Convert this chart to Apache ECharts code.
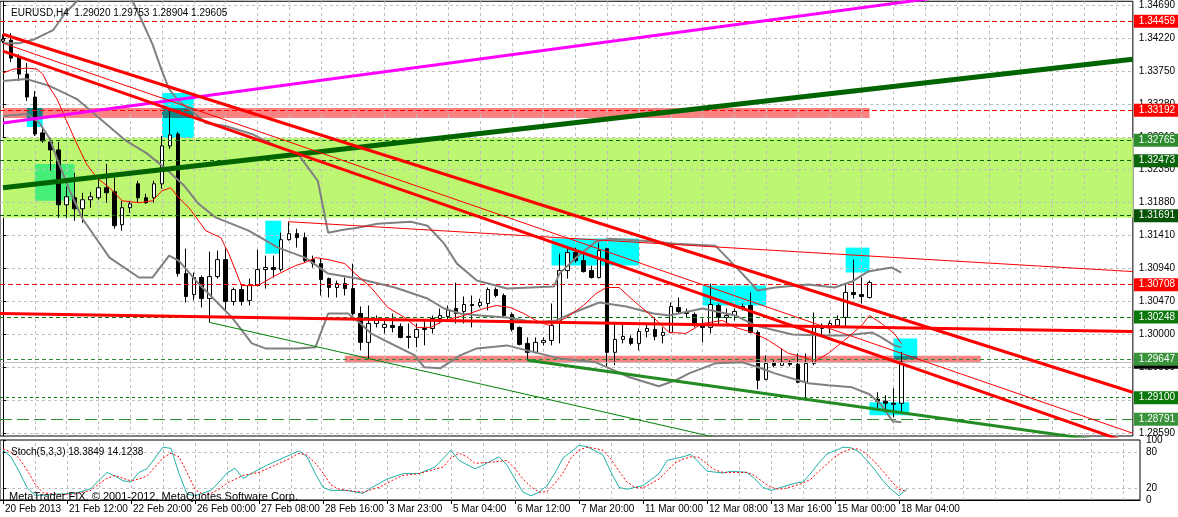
<!DOCTYPE html>
<html><head><meta charset="utf-8">
<script src="https://cdn.jsdelivr.net/npm/echarts@6/dist/echarts.min.js"></script>
<style>html,body{margin:0;padding:0;background:#fff;overflow:hidden}#c{width:1178px;height:517px}</style>
</head><body><div id="c"></div>
<script>
const FONT = "'Liberation Sans',sans-serif";
const FS = 10;
const symbolName = 'EURUSD,H4';
const copyrightText = 'MetaTrader FIX, \u00a9 2001-2012, MetaQuotes Software Corp.';

// x-axis labels (bar index -> label)
const labelBars = [0,8,16,24,32,40,48,56,64,72,80,88,96,104,112];
const barLabels = ['20 Feb 2013','21 Feb 12:00','22 Feb 20:00','26 Feb 00:00','27 Feb 08:00','28 Feb 16:00','3 Mar 23:00','5 Mar 04:00','6 Mar 12:00','7 Mar 20:00','11 Mar 00:00','12 Mar 08:00','13 Mar 16:00','15 Mar 00:00','18 Mar 04:00'];
const gridBars = [4,8,12,16,20,24,28,32,36,40,44,48,52,56,60,64,68,72,76,80,84,88,92,96,100,104,108,112,116,120,124,128,132,136,140];
const priceTicks = [1.34690,1.34220,1.33750,1.33280,1.32810,1.32350,1.31880,1.31410,1.30940,1.30470,1.30000,1.29530,1.29060,1.28590];
const stochTicks = [0,20,80,100];
const stochLevels = [20,80];

// H4 candles
const opens = [
1.34175,1.34189,1.33948,1.33706,1.33380,1.32869,1.32741,1.32627,1.31846,1.31946,
1.31789,1.31917,1.31946,1.32088,1.32031,1.31562,1.31804,1.32144,1.31946,1.31946,
1.32144,1.32684,1.32854,1.30866,1.30568,1.30810,1.30511,1.30824,1.31065,1.30469,
1.30639,1.30483,1.30696,1.30923,1.30952,1.30923,1.31349,1.31434,1.31378,1.31065,
1.31008,1.30795,1.30668,1.30724,1.30653,1.30298,1.29887,1.30156,1.30100,1.30128,
1.30114,1.29972,1.29958,1.30085,1.30085,1.30227,1.30256,1.30369,1.30327,1.30426,
1.30412,1.30440,1.30639,1.30554,1.30284,1.30100,1.29872,1.29745,1.29887,1.29915,
1.30171,1.30909,1.31165,1.31051,1.30909,1.30810,1.31221,1.29745,1.29929,1.29943,
1.29872,1.30043,1.30071,1.29986,1.30029,1.30384,1.30313,1.30284,1.30142,1.30100,
1.30412,1.30242,1.30270,1.30369,1.30412,1.30029,1.29361,1.29588,1.29560,1.29603,
1.29574,1.29319,1.29588,1.30085,1.30100,1.30128,1.30242,1.30597,1.30568,1.30526,
1.29077,1.29049,1.29020,1.29020];
const highs = [
1.34274,1.34289,1.33990,1.33863,1.33465,1.32954,1.32798,1.32741,1.32102,1.32301,
1.32017,1.32031,1.32215,1.32428,1.32230,1.31903,1.31903,1.32187,1.32002,1.32187,
1.32826,1.33181,1.32883,1.31221,1.30881,1.30838,1.31179,1.31193,1.31221,1.30668,
1.30696,1.30795,1.31207,1.31122,1.31122,1.31449,1.31605,1.31505,1.31449,1.31122,
1.31079,1.30810,1.30767,1.30810,1.31008,1.30398,1.30412,1.30270,1.30227,1.30298,
1.30156,1.30156,1.30156,1.30213,1.30270,1.30369,1.30412,1.30739,1.30540,1.30554,
1.30511,1.30668,1.30668,1.30582,1.30313,1.30114,1.29958,1.29958,1.29958,1.30440,
1.31150,1.31250,1.31236,1.31150,1.30980,1.31307,1.31236,1.30156,1.30156,1.29986,
1.30085,1.30156,1.30242,1.30100,1.30455,1.30526,1.30369,1.30313,1.30227,1.30724,
1.30440,1.30369,1.30369,1.30440,1.30597,1.30057,1.29702,1.29631,1.29801,1.29631,
1.29730,1.29730,1.30313,1.30156,1.30199,1.30270,1.30724,1.31065,1.30810,1.30767,
1.29177,1.29134,1.29233,1.29753];
const lows = [
1.34147,1.33877,1.33607,1.33323,1.32826,1.32727,1.32329,1.31662,1.31662,1.31619,
1.31591,1.31804,1.31917,1.31875,1.31505,1.31477,1.31733,1.31875,1.31860,1.31875,
1.32073,1.32641,1.30824,1.30455,1.30483,1.30384,1.30171,1.30795,1.30341,1.30412,
1.30412,1.30412,1.30682,1.30653,1.30810,1.30895,1.31335,1.31236,1.31023,1.30952,
1.30554,1.30526,1.30526,1.30554,1.30270,1.29773,1.29645,1.30100,1.30014,1.30029,
1.29943,1.29801,1.29816,1.29844,1.30014,1.30156,1.30199,1.30156,1.30156,1.30100,
1.30384,1.30341,1.30526,1.30242,1.30043,1.29844,1.29631,1.29730,1.29844,1.29844,
1.29872,1.30795,1.31023,1.30881,1.30795,1.30795,1.29532,1.29560,1.29872,1.29844,
1.29773,1.29958,1.29915,1.29872,1.30014,1.30298,1.30242,1.30100,1.29887,1.30014,
1.30128,1.30156,1.30199,1.30341,1.30014,1.29219,1.29347,1.29532,1.29560,1.29546,
1.29304,1.29106,1.29560,1.29986,1.30014,1.30100,1.30100,1.30511,1.30440,1.30511,
1.28949,1.28893,1.28822,1.28904];
const closes = [
1.34203,1.33934,1.33706,1.33380,1.32854,1.32755,1.32627,1.31846,1.31960,1.31789,
1.31917,1.31960,1.32088,1.32017,1.31548,1.31804,1.31860,1.31946,1.31875,1.32144,
1.32684,1.32840,1.30866,1.30540,1.30810,1.30511,1.30824,1.31065,1.30469,1.30639,
1.30469,1.30696,1.30923,1.30952,1.30923,1.31349,1.31434,1.31378,1.31051,1.31008,
1.30781,1.30668,1.30724,1.30653,1.30298,1.29887,1.30156,1.30213,1.30142,1.30100,
1.29958,1.29958,1.30071,1.30071,1.30227,1.30270,1.30341,1.30298,1.30426,1.30412,
1.30455,1.30639,1.30554,1.30270,1.30071,1.29858,1.29745,1.29887,1.29915,1.30128,
1.30909,1.31165,1.31051,1.30895,1.30810,1.31193,1.29745,1.29929,1.29972,1.29872,
1.30043,1.30085,1.29972,1.30029,1.30398,1.30327,1.30298,1.30156,1.30100,1.30426,
1.30242,1.30270,1.30327,1.30398,1.30029,1.29347,1.29588,1.29560,1.29603,1.29574,
1.29319,1.29588,1.30100,1.30100,1.30156,1.30213,1.30597,1.30568,1.30540,1.30739,
1.29049,1.29020,1.29006,1.29605];

// Bollinger bands and moving average as [bar, price]
const bbUpper = [[0,1.34147],[2.1,1.34147],[4,1.34203],[6.3,1.34331],[7.8,1.34573],[9.3,1.34743],[10.9,1.34956],[13.4,1.35055],[15.3,1.34885],[16.3,1.34743],[17.5,1.34459],[18.8,1.34132],[20,1.33749],[20.9,1.33493],[22.1,1.33323],[23.8,1.33181],[25.5,1.33011],[28,1.32968],[31.3,1.32854],[34.3,1.32684],[37.1,1.32570],[39.6,1.32187],[40.9,1.31449],[42.8,1.31491],[44.6,1.31520],[47.1,1.31577],[51.3,1.31605],[53.4,1.31548],[55.5,1.31292],[57.1,1.31008],[59.6,1.30767],[63.4,1.30653],[69.3,1.30682],[70,1.30866],[72.1,1.31094],[74.6,1.31321],[76.3,1.31363],[80.5,1.31335],[84.6,1.31292],[89.6,1.31264],[91.8,1.31008],[93.8,1.30767],[94.9,1.30625],[97.1,1.30668],[101.3,1.30710],[104.6,1.30668],[106.8,1.30753],[108.8,1.30895],[111.8,1.30952],[113,1.30881]];
const bbMiddle = [[0,1.33607],[3,1.33635],[5.9,1.33536],[9.3,1.33351],[12.1,1.33082],[15.5,1.32755],[18,1.32585],[20.5,1.32357],[22.8,1.32116],[24.6,1.31860],[26.8,1.31662],[30.9,1.31477],[34.6,1.31236],[38,1.31094],[40.9,1.30866],[44.6,1.30795],[49.3,1.30668],[53.4,1.30511],[55.5,1.30369],[57.5,1.30298],[60,1.30270],[63.4,1.30242],[67.1,1.30171],[69.6,1.30199],[71.8,1.30313],[75,1.30455],[78.4,1.30398],[81.8,1.30298],[83.8,1.30270],[88,1.30369],[92.1,1.30270],[94.6,1.30128],[99.3,1.30000],[103,1.29986],[105.9,1.29986],[109.3,1.30029],[110.5,1.29958],[112.1,1.29844],[113,1.29816]];
const bbLower = [[0,1.33110],[3.1,1.33138],[4.6,1.33011],[5.9,1.32783],[6.8,1.32499],[8.4,1.32045],[10,1.31647],[13.4,1.31094],[17.1,1.30810],[18.8,1.30810],[20.9,1.31122],[22.1,1.31051],[24.6,1.30724],[28.8,1.30242],[31.3,1.29872],[33,1.29801],[37.1,1.29801],[39.3,1.29816],[40.9,1.30298],[43.4,1.30298],[45,1.30156],[46.3,1.30014],[48,1.29915],[51.8,1.29702],[53,1.29532],[55,1.29517],[57.5,1.29702],[59.6,1.29801],[63.4,1.29844],[65.9,1.29773],[70,1.29659],[74.6,1.29603],[76.3,1.29517],[78.8,1.29390],[82.5,1.29262],[84.6,1.29347],[86.3,1.29446],[89.6,1.29588],[93,1.29603],[95,1.29532],[97.1,1.29446],[101.3,1.29304],[103.8,1.29276],[106.8,1.29247],[109,1.29148],[110.5,1.28992],[111.9,1.28765],[113,1.28751]];
const maLine = [[0,1.33721],[1.3,1.33777],[3,1.33792],[4.3,1.33777],[5,1.33706],[5.9,1.33508],[6.8,1.33351],[8,1.33039],[9.3,1.32712],[10.5,1.32428],[11.8,1.32230],[13.4,1.32088],[15,1.31903],[17.1,1.31875],[18.8,1.31903],[20,1.32045],[21.1,1.32088],[22.1,1.31946],[23.4,1.31804],[25.5,1.31477],[27.4,1.31378],[28.4,1.31150],[30,1.30696],[32.1,1.30696],[33.8,1.30810],[35.5,1.30909],[36.8,1.30980],[38,1.31023],[39.3,1.31094],[40.9,1.31065],[43,1.31008],[44.3,1.30866],[46.3,1.30668],[48.4,1.30384],[50.5,1.30242],[52.1,1.30100],[53.8,1.30100],[55.5,1.30199],[58,1.30270],[60.5,1.30369],[62.1,1.30412],[63.8,1.30384],[65.5,1.30298],[67.5,1.30171],[68.8,1.30128],[69.6,1.30171],[70.9,1.30242],[73,1.30412],[74.6,1.30582],[75.9,1.30668],[77.5,1.30668],[79.3,1.30483],[81.8,1.30242],[83.8,1.30029],[85.9,1.30014],[88,1.30156],[90.5,1.30199],[92.1,1.30100],[94.3,1.30029],[96.3,1.29915],[98.8,1.29730],[100.9,1.29674],[102.1,1.29617],[103.8,1.29730],[106.3,1.29958],[108,1.30128],[109,1.30270],[110.5,1.30156],[112.1,1.30014],[113,1.29872]];

// Stochastic(5,3,3)
const stochMain = [[0,83],[1,72],[2,48],[3,21],[4,8],[5,8],[7,10],[9,11],[11,19],[12,33],[13,46],[14,40],[15,32],[16,30],[17,46],[18,52],[19,70],[20,88],[21,86],[22,44],[23,10],[24,7],[26,16],[27,30],[28,45],[29,53],[30,36],[31,44],[33,58],[35,70],[37,82],[38,72],[39,45],[40,21],[41,16],[43,16],[45,11],[46,20],[48,35],[50,44],[52,44],[54,55],[56,83],[57,66],[59,52],[60,58],[62,72],[63,58],[64,35],[65,13],[66,7],[67,13],[68,24],[69,45],[70,70],[72,91],[73,89],[74,82],[75,75],[76,46],[77,21],[78,18],[80,24],[82,44],[83,66],[85,72],[86,76],[87,62],[88,48],[90,45],[91,48],[93,46],[94,35],[95,21],[96,16],[98,24],[99,28],[100,30],[101,45],[102,62],[103,77],[104,82],[105,88],[106,87],[107,80],[108,66],[109,50],[110,32],[111,18],[112,7],[113,18.3849]];
const stochSignal = [[0,85],[1,80],[2,70],[3,50],[4,27],[5,12],[7,9],[9,10],[11,16],[12,27],[13,36],[14,41],[15,36],[16,32],[17,35],[18,40],[19,55],[20,70],[21,78],[22,72],[23,46],[24,18],[25,9],[26,11],[27,18],[28,28],[30,41],[32,46],[34,58],[36,70],[37,78],[38,75],[39,62],[40,45],[41,25],[42,18],[43,16],[45,13],[47,21],[49,35],[50,41],[52,44],[55,55],[56,70],[57,78],[58,72],[59,61],[61,63],[63,66],[64,52],[65,35],[66,22],[67,13],[68,14],[69,28],[70,45],[71,70],[72,83],[73,88],[74,86],[75,83],[76,68],[77,48],[78,30],[79,21],[80,20],[82,35],[83,48],[84,62],[85,68],[86,72],[87,71],[88,60],[89,50],[90,46],[93,46],[94,40],[95,30],[96,21],[97,18],[98,20],[99,24],[100,28],[101,35],[102,48],[103,60],[104,72],[105,80],[106,85],[107,85],[108,76],[109,63],[110,48],[111,32],[112,18],[113,14.1238]];

// Trend lines [bar, price]
const magentaLine = [[0,1.33011],[142.1,1.35169]];
const greenThickLine = [[0,1.32088],[142.1,1.33919]];
const redUpperLine = [[0,1.34274],[142.1,1.29177]];
const redLowerLine = [[0,1.34033],[142.1,1.28438]];
const redThinLine = [[0,1.34147],[142.1,1.28594]];
const redResistLine = [[35.9,1.31605],[142.1,1.30895]];
const redFlatLine = [[-0.4,1.30298],[142.1,1.30043]];
const greenThinLine = [[26,1.30171],[95,1.28396]];
const greenSupportLine = [[66,1.29631],[142.1,1.28424]];

// Horizontal price levels
const bidPrice = 1.29605;
const levelPrices = [1.34459,1.33192,1.32765,1.32473,1.31691,1.30708,1.30248,1.29647,1.29100,1.28791];

// Rectangles [[bar1, priceTop], [bar2, priceBottom]]
const greenZone = [[0,1.32798],[142.125,1.31662]];
const salmonZone1 = [[0,1.33224],[109,1.33082]];
const salmonZone2 = [[43,1.29695],[123,1.29595]];
const brightGreenBox = [[4,1.32428],[9,1.31903]];
const cyanBoxes = [
  [[3,1.33082],[5,1.32954]],
  [[20,1.33437],[24,1.33224]],
  [[20,1.33082],[24,1.32798]],
  [[33,1.31619],[35,1.31150]],
  [[69,1.31364],[80,1.30980]],
  [[88,1.30696],[96,1.30412]],
  [[106,1.31236],[109,1.30881]],
  [[112,1.29943],[115,1.29695]],
  [[109,1.29035],[114,1.28850]]
];
const tealBoxes = [
  [[3,1.33224],[5,1.33082]],
  [[20,1.33224],[24,1.33082]],
  [[112,1.29695],[115,1.29645]]
];

// ---------- build chart ----------
const levelStyle = [
  {line:'#ff0000', dash:[5,3], box:'#ff0000'},
  {line:'#ff0000', dash:[5,3], box:'#ff0000'},
  {line:'#0a6e0a', dash:[4,3], box:'#2e8b2e'},
  {line:'#0a640a', dash:[4,3], box:'#0b650b'},
  {line:'#065a06', dash:[4,3], box:'#065306'},
  {line:'#ff0000', dash:[5,3], box:'#ff0000'},
  {line:'#0a780a', dash:[4,3], box:'#0b780b'},
  {line:'#2e8b2e', dash:[4,3], box:'#3a923a'},
  {line:'#0a780a', dash:[3,3], box:'#0b780b'},
  {line:'#2e8b2e', dash:[12,5], box:'#3a923a'}
];

const candleData = opens.map((o,i)=>[i,o,closes[i],lows[i],highs[i]]);
const xRange = {min:-0.375, max:142.125};

function tl(data, color, width, z){
  return {type:'line', data, xAxisIndex:0, yAxisIndex:0, symbol:'none', silent:true, clip:true,
    lineStyle:{color, width}, z: z||4, animation:false};
}
function box(b, color){
  return [{coord:b[0], itemStyle:{color}}, {coord:b[1]}];
}

const labelFmt = p => Number(p.value).toFixed(5);
const boxLabel = bg => ({show:true, position:'end', distance:1, formatter:labelFmt, backgroundColor:bg, color:'#fff', padding:[2,4,1,5], fontFamily:FONT, fontSize:FS});
const levelMarks = [{yAxis:bidPrice, lineStyle:{color:'#c0c0c0', type:'solid', width:1}, label:boxLabel('#000')}];
levelPrices.forEach((p,i)=>{
  const s = levelStyle[i];
  levelMarks.push({yAxis:p, lineStyle:{color:s.line, type:s.dash, width:1}, label:boxLabel(s.box)});
});

const option = {
  animation:false,
  backgroundColor:'#ffffff',
  textStyle:{fontFamily:FONT},
  title:[
    {text:`${symbolName}  ${opens[113].toFixed(5)} ${highs[113].toFixed(5)} ${lows[113].toFixed(5)} ${closes[113].toFixed(5)}`, left:6, top:3, textStyle:{fontSize:FS, fontWeight:'normal', color:'#000', fontFamily:FONT}},
    {text:`Stoch(5,3,3) ${stochMain[stochMain.length-1][1].toFixed(4)} ${stochSignal[stochSignal.length-1][1].toFixed(4)}`, left:6, top:442, textStyle:{fontSize:FS, fontWeight:'normal', color:'#000', fontFamily:FONT}},
    {text:copyrightText, left:4, top:486, textStyle:{fontSize:11, fontWeight:'normal', color:'#000', fontFamily:FONT}}
  ],
  grid:[
    {left:0, top:0, width:1140, height:436, show:true, borderColor:'#000', borderWidth:1, backgroundColor:'transparent'},
    {left:0, top:440, width:1140, height:60, show:true, borderColor:'#000', borderWidth:1, backgroundColor:'transparent'}
  ],
  xAxis:[
    {type:'value', gridIndex:0, min:xRange.min, max:xRange.max, axisLabel:{show:false}, axisTick:{show:false}, axisLine:{show:false}, splitLine:{show:false}},
    {type:'value', gridIndex:1, min:xRange.min, max:xRange.max, axisLine:{show:true, onZero:false, lineStyle:{color:'#000'}},
      axisTick:{show:true, customValues:labelBars, length:4, lineStyle:{color:'#000'}},
      axisLabel:{customValues:labelBars, formatter:v=>barLabels[labelBars.indexOf(Math.round(v))]||'', align:'left', margin:4, padding:[0,0,0,2], color:'#000', fontFamily:FONT, fontSize:FS},
      splitLine:{show:false}}
  ],
  yAxis:[
    {type:'value', gridIndex:0, position:'right', min:1.28554, max:1.34743, scale:true,
      axisLine:{show:true, lineStyle:{color:'#000'}},
      axisTick:{show:true, customValues:priceTicks, length:3, lineStyle:{color:'#000'}},
      axisLabel:{customValues:priceTicks, formatter:v=>v.toFixed(5), margin:6, color:'#000', fontFamily:FONT, fontSize:FS},
      splitLine:{show:false}},
    {type:'value', gridIndex:1, position:'right', min:0, max:100,
      axisLine:{show:true, lineStyle:{color:'#000'}},
      axisTick:{show:true, customValues:stochTicks, length:3, lineStyle:{color:'#000'}},
      axisLabel:{customValues:stochTicks, showMinLabel:true, showMaxLabel:true, margin:6, color:'#000', fontFamily:FONT, fontSize:FS},
      splitLine:{show:false}}
  ],
  series:[
    // zones
    {type:'line', data:[], xAxisIndex:0, yAxisIndex:0, silent:true, z:1,
      markArea:{silent:true, z:1, animation:false, data:[
        box(greenZone,'#bdf670'),
        box(salmonZone1,'#f98383'),
        box(salmonZone2,'#f98383'),
        box(brightGreenBox,'#44ee77'),
        ...cyanBoxes.map(b=>box(b,'#00ffff')),
        ...tealBoxes.map(b=>box(b,'#138585'))
      ]}},
    // grid lines main
    {type:'line', data:[], xAxisIndex:0, yAxisIndex:0, silent:true, z:2,
      markLine:{silent:true, z:2, precision:6, animation:false, symbol:['none','none'], label:{show:false},
        lineStyle:{color:'#c0c0c0', type:[3,3], width:1},
        data:[...gridBars.map(b=>({xAxis:b})), ...priceTicks.map(p=>({yAxis:p}))]}},
    // grid lines stoch
    {type:'line', data:[], xAxisIndex:1, yAxisIndex:1, silent:true, z:2,
      markLine:{silent:true, z:2, precision:6, animation:false, symbol:['none','none'], label:{show:false},
        lineStyle:{color:'#c0c0c0', type:[3,3], width:1},
        data:[...gridBars.map(b=>({xAxis:b})), ...stochLevels.map(v=>({yAxis:v}))]}},
    // candles
    {type:'candlestick', data:candleData, xAxisIndex:0, yAxisIndex:0, silent:true, z:3, barWidth:4,
      itemStyle:{color:'#ffffff', color0:'#000000', borderColor:'#000000', borderColor0:'#000000', borderColorDoji:'#000000', borderWidth:1}},
    // levels
    {type:'line', data:[], xAxisIndex:0, yAxisIndex:0, silent:true, z:4,
      markLine:{silent:true, z:4, precision:6, animation:false, symbol:['none','none'], data:levelMarks}},
    // indicators
    tl(bbUpper,'#808080',2),
    tl(bbMiddle,'#808080',2),
    tl(bbLower,'#808080',2),
    tl(maLine,'#ff0000',1),
    // trend lines
    tl(magentaLine,'#ff00ff',3),
    tl(greenThickLine,'#006400',5),
    tl(redUpperLine,'#ff0000',3),
    tl(redLowerLine,'#ff0000',3),
    tl(redThinLine,'#ff0000',1),
    tl(redResistLine,'#ff0000',1),
    tl(redFlatLine,'#ff0000',3),
    tl(greenThinLine,'#008000',1),
    tl(greenSupportLine,'#228b22',3),
    // stochastic
    {type:'line', data:stochMain, xAxisIndex:1, yAxisIndex:1, symbol:'none', silent:true, lineStyle:{color:'#20b2aa', width:1}, z:4},
    {type:'line', data:stochSignal, xAxisIndex:1, yAxisIndex:1, symbol:'none', silent:true, lineStyle:{color:'#ff0000', width:1, type:[2,2]}, z:4}
  ]
};
const chart = echarts.init(document.getElementById('c'), null, {renderer:'canvas', width:1178, height:517});
chart.setOption(option);
</script>
</body></html>
